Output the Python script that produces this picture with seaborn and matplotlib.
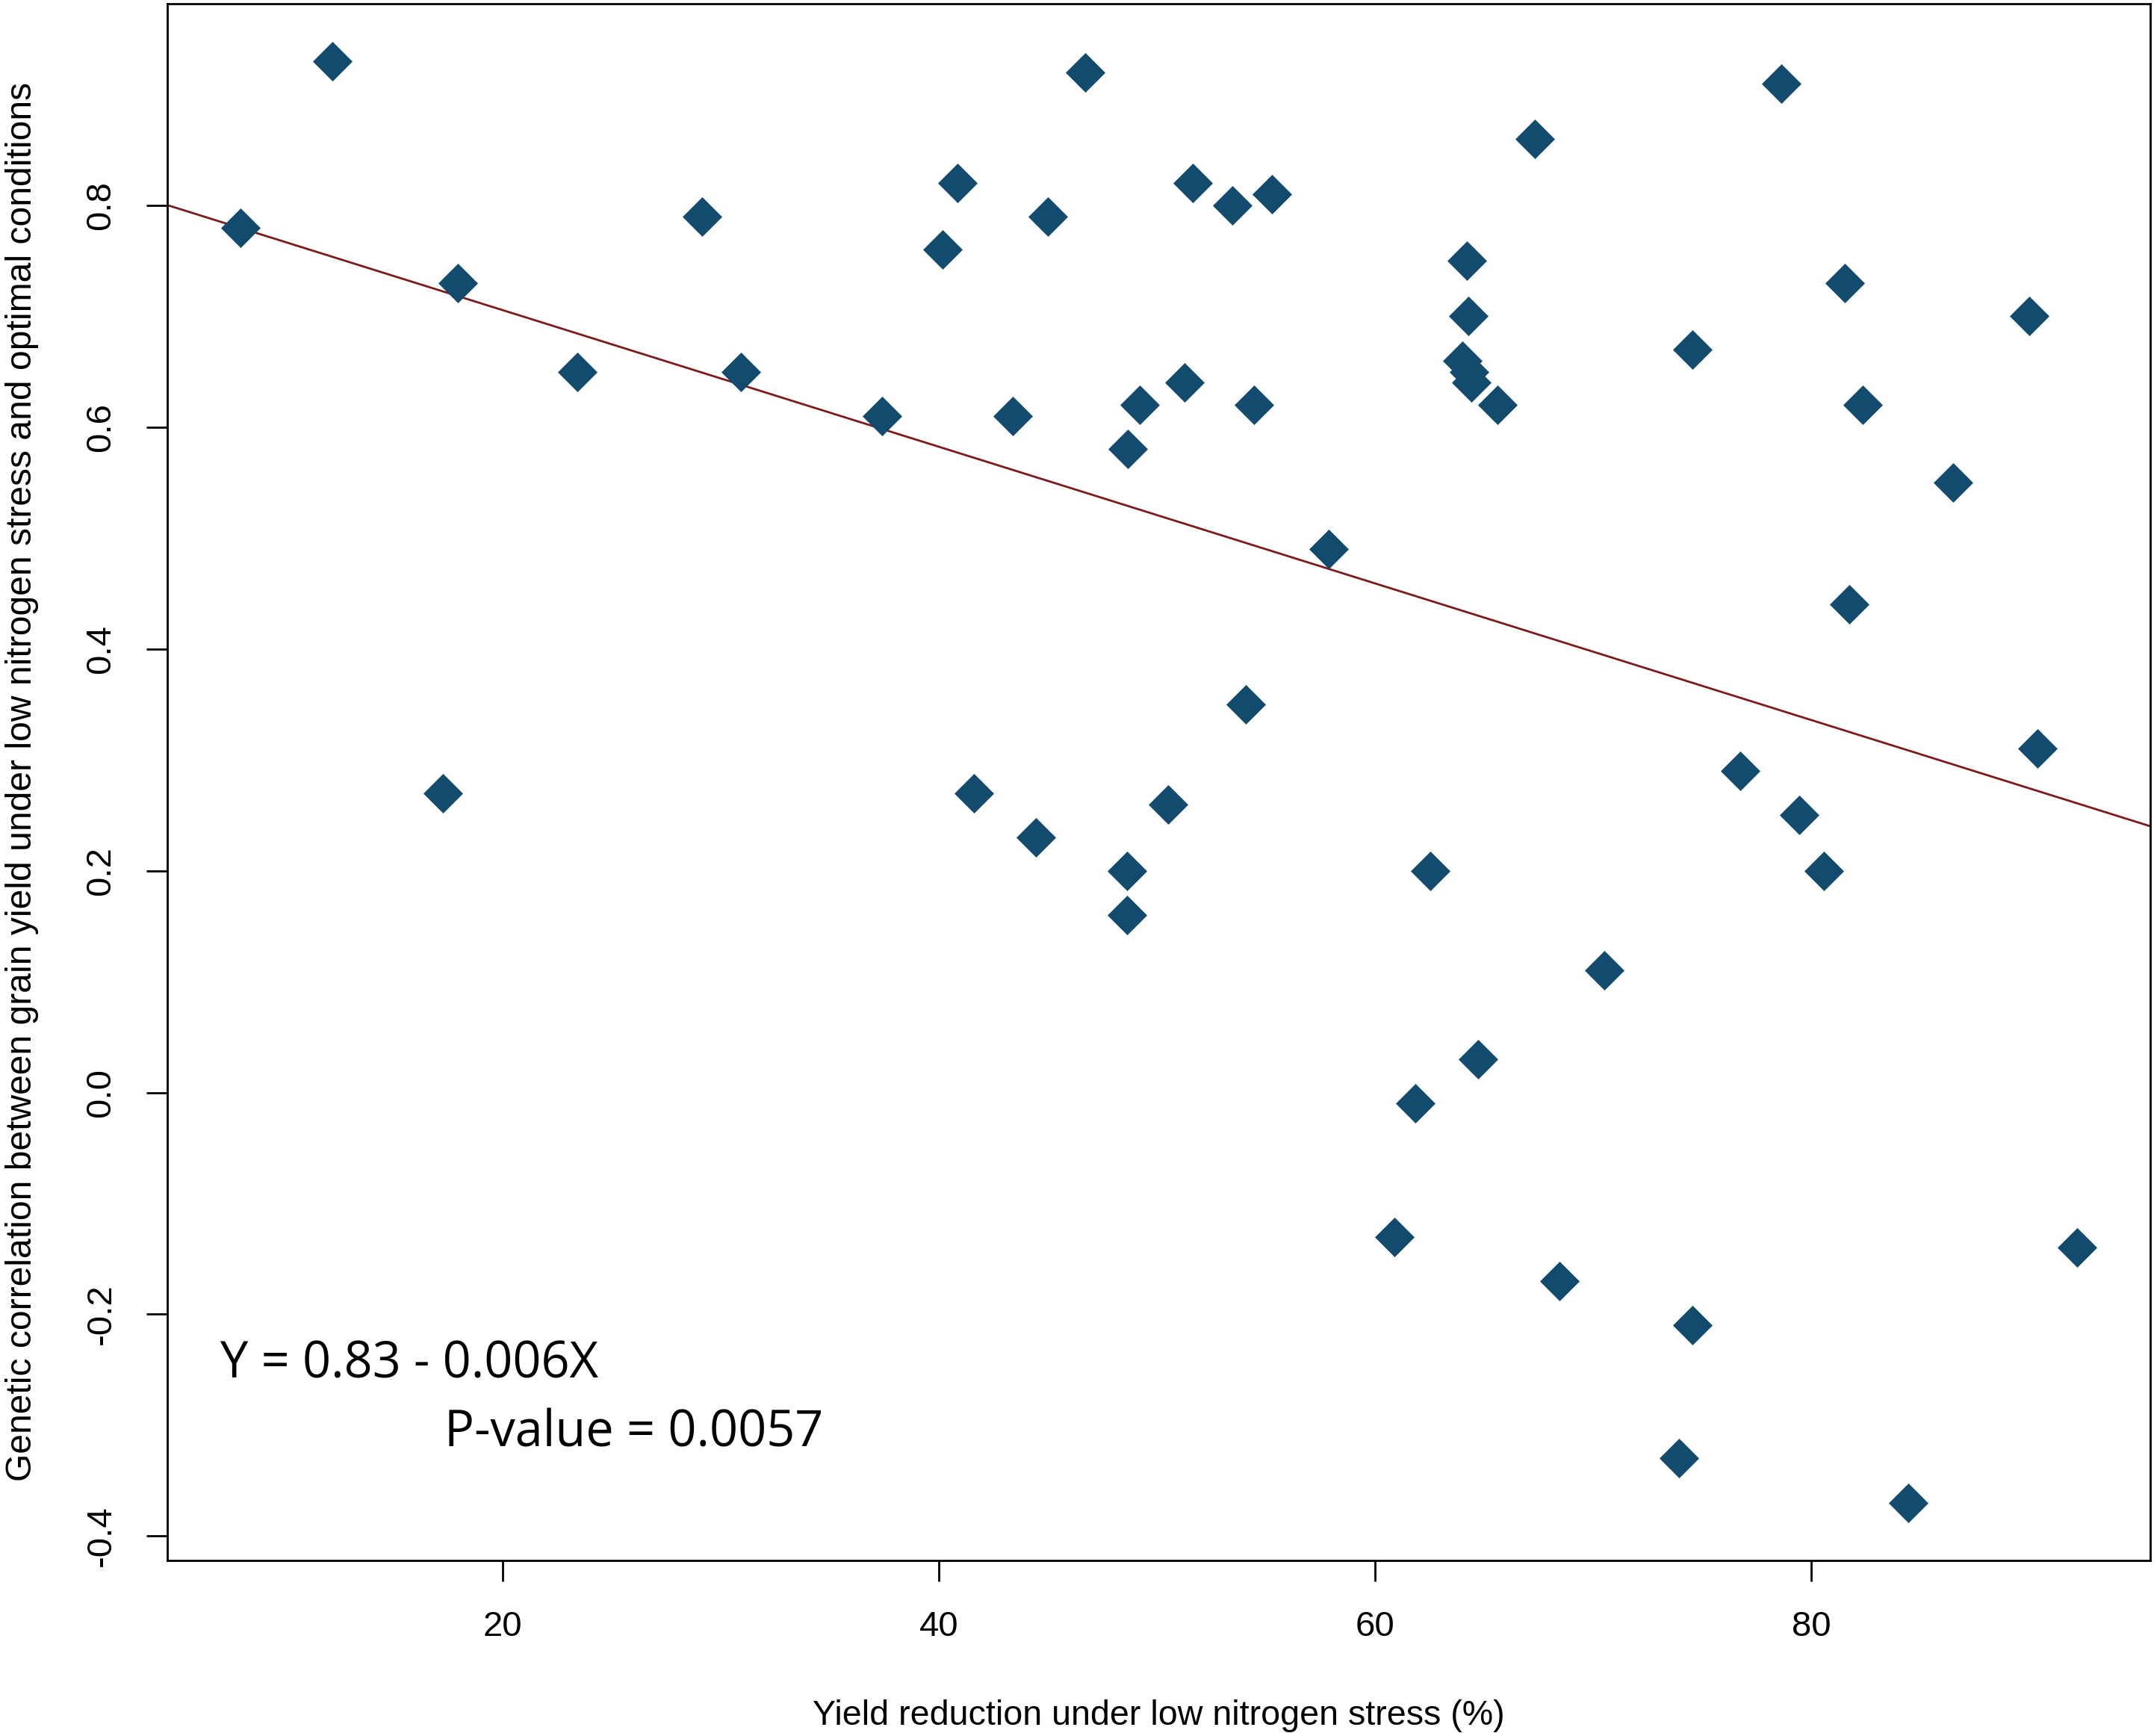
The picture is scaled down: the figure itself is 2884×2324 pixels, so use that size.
import numpy as np
import pandas as pd
import seaborn as sns
import matplotlib.pyplot as plt

# yield reduction (%) vs genetic correlation
yield_reduction = [7.98, 12.19, 17.25, 17.92, 23.4, 29.13, 30.9, 37.39, 40.16, 40.85,
                   41.6, 43.37, 44.44, 45.0, 46.7, 48.66, 48.6, 48.6, 49.2, 50.5,
                   51.24, 51.62, 53.45, 54.07, 54.45, 55.27, 57.85, 60.87, 61.82, 62.51,
                   64.21, 64.0, 64.27, 64.3, 64.4, 64.72, 65.6, 67.3, 68.43, 70.51,
                   73.91, 74.54, 74.54, 76.74, 78.63, 79.45, 80.58, 81.53, 81.72, 82.35,
                   84.43, 86.5, 89.97, 90.35, 92.17]
gen_corr = [0.78, 0.93, 0.27, 0.73, 0.65, 0.79, 0.65, 0.61, 0.76, 0.82,
            0.27, 0.61, 0.23, 0.79, 0.92, 0.58, 0.20, 0.16, 0.62, 0.26,
            0.64, 0.82, 0.80, 0.35, 0.62, 0.81, 0.49, -0.13, -0.01, 0.20,
            0.75, 0.66, 0.70, 0.65, 0.64, 0.03, 0.62, 0.86, -0.17, 0.11,
            -0.33, -0.21, 0.67, 0.29, 0.91, 0.25, 0.20, 0.73, 0.44, 0.62,
            -0.37, 0.55, 0.70, 0.31, -0.14]

# regression line
intercept = 0.8286
slope = -0.00616

x_ticks = [20, 40, 60, 80]
y_ticks = [-0.4, -0.2, 0.0, 0.2, 0.4, 0.6, 0.8]
y_ticklabels = ["-0.4", "-0.2", "0.0", "0.2", "0.4", "0.6", "0.8"]

df = pd.DataFrame({"x": yield_reduction, "y": gen_corr})

sns.set_theme(style="white")
plt.rcParams['font.family'] = ['Liberation Sans', 'DejaVu Sans']
plt.rcParams['text.color'] = 'black'

fig = plt.figure(figsize=(14.42, 11.62), dpi=200)
ax = fig.add_axes([0.0777, 0.1011, 0.9206, 0.8969])

sns.scatterplot(data=df, x="x", y="y", marker="D", s=182, color="#134B6E",
                linewidth=0, ax=ax, zorder=3)
ax.axline((0, intercept), slope=slope, color="#7D1A1A", lw=1.0, zorder=2)

# R style ranges (4% padding)
xr = max(yield_reduction) - min(yield_reduction)
yr = max(gen_corr) - min(gen_corr)
ax.set_xlim(min(yield_reduction) - 0.04 * xr, max(yield_reduction) + 0.04 * xr)
ax.set_ylim(min(gen_corr) - 0.04 * yr, max(gen_corr) + 0.04 * yr)

ax.set_xticks(x_ticks)
ax.set_xticklabels([str(t) for t in x_ticks])
ax.set_yticks(y_ticks)
ax.set_yticklabels(y_ticklabels, rotation=90, va="center")
ax.tick_params(axis="both", direction="out", length=10, width=1.0, color="black",
               pad=14, labelsize=17, labelcolor="black", bottom=True, left=True)

for sp in ax.spines.values():
    sp.set_color("black")
    sp.set_linewidth(1.0)

ax.set_xlabel("Yield reduction under low nitrogen stress (%)", fontsize=16.8, color="black")
ax.set_ylabel("Genetic correlation between grain yield under low nitrogen stress and optimal conditions",
              fontsize=17.3, color="black")
ax.xaxis.set_label_coords(0.5, -0.089)
ax.yaxis.set_label_coords(-0.065, 0.5)

ax.text(7.03, -0.257, "Y = 0.83 - 0.006X", fontsize=24, family="Open Sans",
        color="black", ha="left", va="baseline")
ax.text(17.3, -0.319, "P-value = 0.0057", fontsize=24, family="Open Sans",
        color="black", ha="left", va="baseline")

fig.savefig("out.png", dpi=200, facecolor="white")
